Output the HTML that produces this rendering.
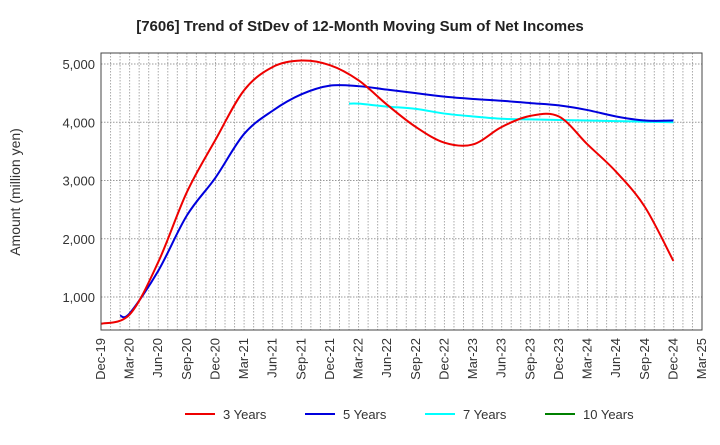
<!DOCTYPE html>
<html><head><meta charset="utf-8"><style>
body{margin:0;background:#fff;font-family:"Liberation Sans",sans-serif;}
</style></head><body>
<svg id="c" width="720" height="440" xmlns="http://www.w3.org/2000/svg">
<text x="360" y="31" text-anchor="middle" font-size="15" font-weight="bold" fill="#222">[7606]  Trend of StDev of 12-Month Moving Sum of Net Incomes</text>
<text transform="translate(20,192) rotate(-90)" text-anchor="middle" font-size="14" fill="#333">Amount (million yen)</text>
<g id="grid"></g><g id="series"></g><g id="axes"></g><g id="legend"></g>
</svg>
<script>
const xTicks=["Dec-19","Mar-20","Jun-20","Sep-20","Dec-20","Mar-21","Jun-21","Sep-21","Dec-21","Mar-22","Jun-22","Sep-22","Dec-22","Mar-23","Jun-23","Sep-23","Dec-23","Mar-24","Jun-24","Sep-24","Dec-24","Mar-25"];
const yTicks=[1000,2000,3000,4000,5000];
const yLabels=["1,000","2,000","3,000","4,000","5,000"];
// month index from Dec-19
const m3=[0,3,6,9,12,15,18,21,24,27,30,33,36,39,42,45,48,51,54,57,60];
const v3=[540,700,1600,2800,3700,4550,4950,5060,4980,4720,4300,3920,3650,3620,3920,4110,4100,3620,3150,2550,1620];
const m5=[2,3,6,9,12,15,18,21,24,27,30,33,36,39,42,45,48,51,54,57,60];
const v5=[680,720,1450,2400,3050,3800,4200,4480,4630,4620,4560,4500,4440,4400,4370,4330,4290,4210,4100,4030,4030];
const m7=[26,27,30,33,36,39,42,45,48,51,54,57,60];
const v7=[4320,4320,4270,4230,4150,4100,4060,4050,4040,4030,4020,4010,4000];
const L=101,R=702,T=53,B=330;
const xs=m=>L+m*(R-L)/63;
const ys=v=>355.3-v*0.05825;
const NS="http://www.w3.org/2000/svg";
function mk(t,a,p){const e=document.createElementNS(NS,t);for(const k in a)e.setAttribute(k,a[k]);p.appendChild(e);return e;}
const g=document.getElementById('grid'),ax=document.getElementById('axes'),sg=document.getElementById('series'),lg=document.getElementById('legend');
for(let m=1;m<63;m++){const l=mk('line',{x1:xs(m),x2:xs(m),y1:T,y2:B,stroke:'#aaa','stroke-dasharray':'1.5,1.5','stroke-width':1},g);

}
yTicks.forEach((v,i)=>{const l=mk('line',{x1:L,x2:R,y1:ys(v),y2:ys(v),stroke:'#999','stroke-dasharray':'1.5,1.5'},g);


const t=mk('text',{x:L-6,y:ys(v)+5,'text-anchor':'end','font-size':13,fill:'#333'},ax);t.textContent=yLabels[i];

});
const fr=mk('rect',{x:L,y:T,width:R-L,height:B-T,fill:'none',stroke:'#444','stroke-width':1},ax);


xTicks.forEach((s,i)=>{const x=xs(i*3);const t=mk('text',{transform:`translate(${x+4},${B+8}) rotate(-90)`,'text-anchor':'end','font-size':13,fill:'#333'},ax);t.textContent=s;

});
function path(ms,vs){const p=ms.map((m,i)=>[xs(m),ys(vs[i])]);let d=`M${p[0][0]},${p[0][1]}`;
for(let i=0;i<p.length-1;i++){const p0=p[Math.max(i-1,0)],p1=p[i],p2=p[i+1],p3=p[Math.min(i+2,p.length-1)];
d+=` C${p1[0]+(p2[0]-p0[0])/6},${p1[1]+(p2[1]-p0[1])/6} ${p2[0]-(p3[0]-p1[0])/6},${p2[1]-(p3[1]-p1[1])/6} ${p2[0]},${p2[1]}`;}return d;}
[[m7,v7,'#00ffff','series-7-years'],[m5,v5,'#0000dd','series-5-years'],[m3,v3,'#ee0000','series-3-years']].forEach(s=>{
const e=mk('path',{d:path(s[0],s[1]),fill:'none',stroke:s[2],'stroke-width':2},sg);

});
[["3 Years","#ee0000",185],["5 Years","#0000dd",305],["7 Years","#00ffff",425],["10 Years","#008000",545]].forEach(it=>{
const gi=mk('g',{},lg);


mk('line',{x1:it[2],x2:it[2]+30,y1:414,y2:414,stroke:it[1],'stroke-width':2},gi);
const t=mk('text',{x:it[2]+38,y:419,'font-size':13,fill:'#333'},gi);t.textContent=it[0];});
</script>
</body></html>
